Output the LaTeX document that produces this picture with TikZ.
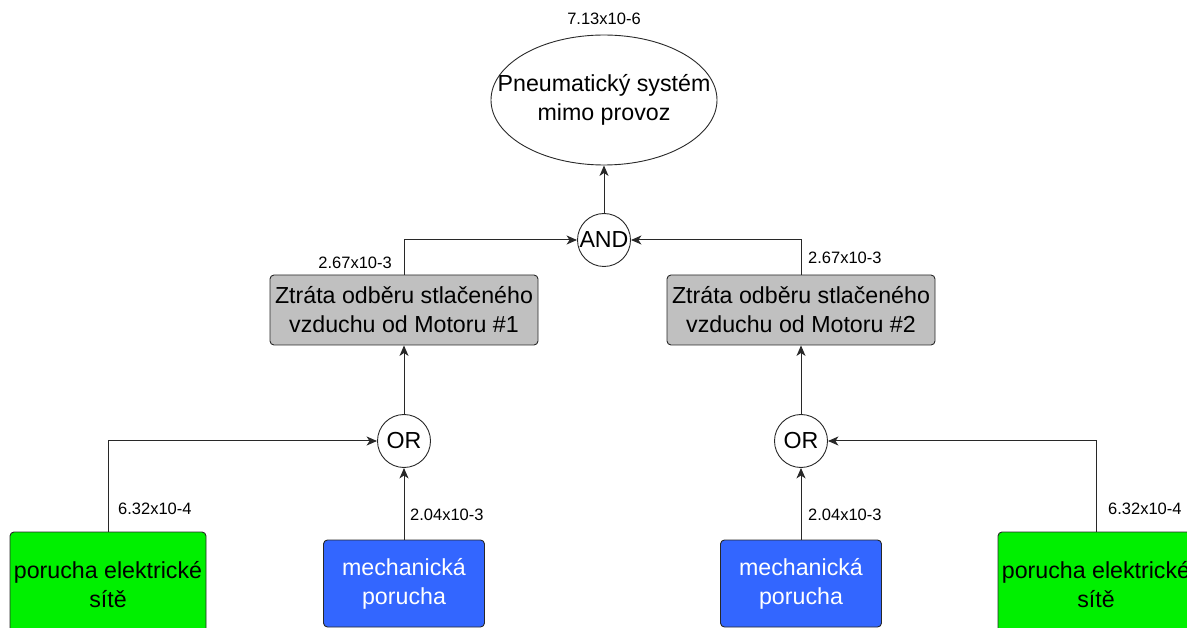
\documentclass[tikz,border=0pt]{standalone}
\usepackage{fontspec}
\setmainfont{Liberation Sans}
\usetikzlibrary{arrows.meta,shapes.geometric}

\definecolor{boxgray}{RGB}{192,192,192}
\definecolor{elgreen}{RGB}{0,240,0}
\definecolor{mechblue}{RGB}{51,102,255}
\definecolor{linegray}{RGB}{40,40,40}

\tikzset{
  big/.style={font=\fontsize{23.2}{29}\selectfont},
  prob/.style={font=\fontsize{16.5}{20}\selectfont, inner sep=0pt},
  event/.style={draw=linegray, line width=0.9pt, rounded corners=4pt, align=center, inner sep=0pt, big},
  greybox/.style={event, fill=boxgray, minimum width=268pt, minimum height=70pt},
  greenbox/.style={event, fill=elgreen, minimum width=196pt, minimum height=106pt},
  bluebox/.style={event, fill=mechblue, text=white, minimum width=161pt, minimum height=87pt},
  gate/.style={circle, draw=linegray, line width=0.9pt, fill=white, minimum size=53pt, inner sep=0pt, big},
  top/.style={ellipse, draw=linegray, line width=0.9pt, minimum width=226pt, minimum height=130pt, inner sep=0pt},
  toptext/.style={align=center, inner sep=0pt, big},
  arr/.style={draw=linegray, line width=1pt, -{Stealth[length=10.5pt,width=9pt,inset=3pt]}}
}

\begin{document}
\begin{tikzpicture}[x=1pt,y=-1pt]
  \useasboundingbox (0,0) rectangle (1187,628);
  \clip (0,0) rectangle (1187,628);

  % top event and AND gate
  \node[top] (topev) at (604,100) {};
  \node[toptext] (toplabel) at (topev.center) {Pneumatický systém\\mimo provoz};
  \node[prob] (ptop) at (604,19) {7.13x10-6};
  \node[gate] (and) at (604,240) {AND};

  % intermediate events
  \node[greybox] (m1) at (404,310) {Ztráta odběru stlačeného\\vzduchu od Motoru \#1};
  \node[greybox] (m2) at (801,310) {Ztráta odběru stlačeného\\vzduchu od Motoru \#2};
  \node[prob, anchor=east] (pm1) at (392,263) {2.67x10-3};
  \node[prob, anchor=west] (pm2) at (808,258) {2.67x10-3};

  % OR gates
  \node[gate] (or1) at (404,441) {OR};
  \node[gate] (or2) at (801,441) {OR};

  % basic events
  \node[greenbox] (e1) at (108,585) {porucha elektrické\\sítě};
  \node[bluebox] (b1) at (404,583.5) {mechanická\\porucha};
  \node[bluebox] (b2) at (801,583.5) {mechanická\\porucha};
  \node[greenbox] (e2) at (1096,585) {porucha elektrické\\sítě};

  \node[prob, anchor=west] (pe1) at (118,509) {6.32x10-4};
  \node[prob, anchor=west] (pb1) at (410,515) {2.04x10-3};
  \node[prob, anchor=west] (pb2) at (808,515) {2.04x10-3};
  \node[prob, anchor=west] (pe2) at (1108,509) {6.32x10-4};

  % connectors
  \draw[arr] (and.north) -- (topev.south);
  \draw[arr] (m1.north) |- (and.west);
  \draw[arr] (m2.north) |- (and.east);
  \draw[arr] (or1.north) -- (m1.south);
  \draw[arr] (or2.north) -- (m2.south);
  \draw[arr] (e1.north) |- (or1.west);
  \draw[arr] (b1.north) -- (or1.south);
  \draw[arr] (b2.north) -- (or2.south);
  \draw[arr] (e2.north) |- (or2.east);
\end{tikzpicture}
\end{document}
